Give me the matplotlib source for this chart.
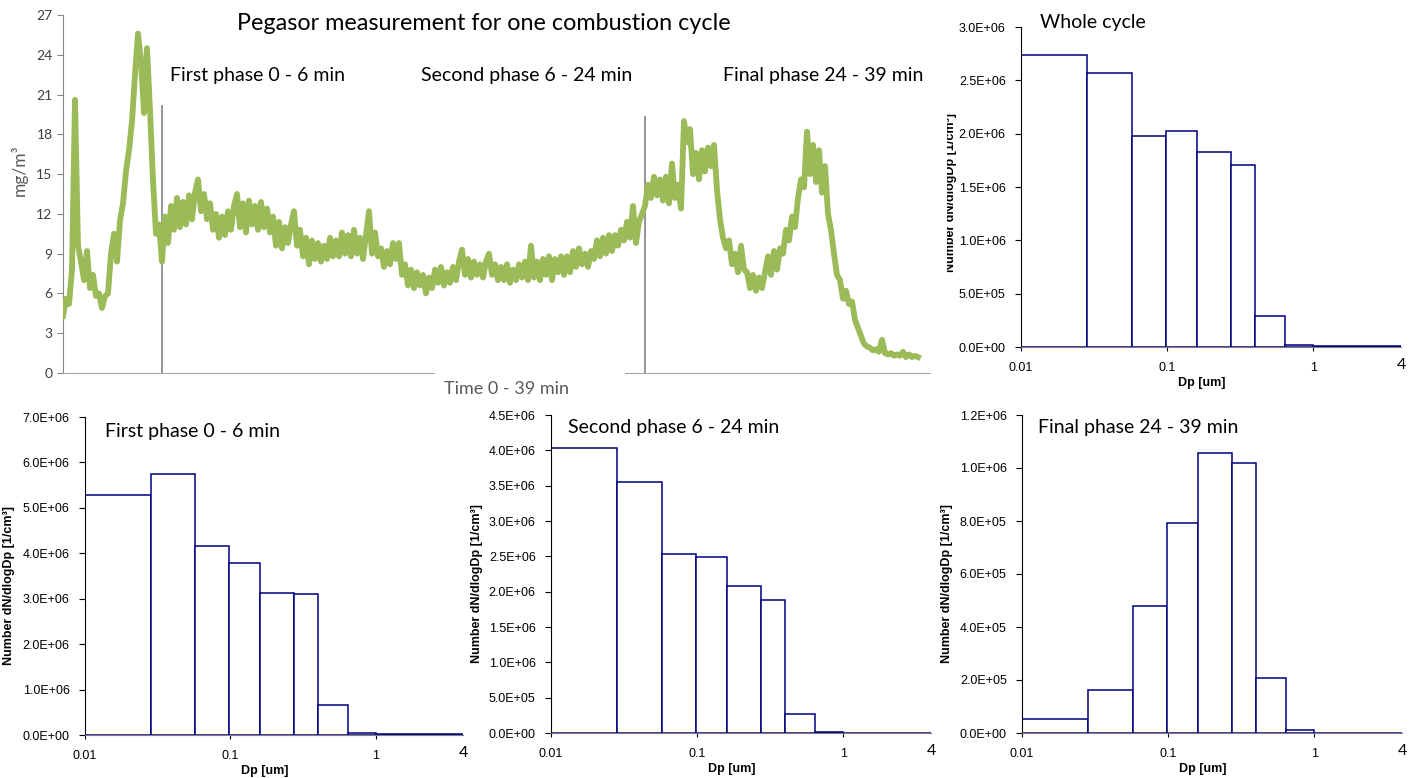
import numpy as np
import matplotlib
matplotlib.use('Agg')
import matplotlib.pyplot as plt
from matplotlib.ticker import FuncFormatter, FixedLocator, NullLocator
from matplotlib.patches import Rectangle
from matplotlib.transforms import Bbox

# Pegasor trace, one reading per sample (mg/m3)
pm_mass = [
    4.3, 5.6, 5.2, 7.8, 20.6, 9.6, 8.4, 7.0, 9.2, 6.4, 7.4, 5.8, 6.0, 4.9, 5.8,
    6.0, 9.0, 10.5, 8.4, 11.5, 12.8, 15.2, 16.8, 19.0, 22.5, 25.6, 23.5, 19.6, 24.5, 19.8,
    14.5, 10.5, 11.2, 8.4, 11.8, 9.8, 12.6, 10.8, 13.2, 11.0, 12.9, 11.2, 13.4, 11.6, 13.6,
    14.6, 12.2, 13.5, 11.6, 12.8, 10.8, 12.0, 10.2, 11.8, 10.4, 12.2, 10.8, 12.6, 13.5, 11.0,
    12.8, 10.6, 13.0, 11.2, 12.6, 10.8, 12.9, 11.0, 12.4, 10.6, 11.8, 9.6, 11.4, 9.4, 11.0,
    9.8, 11.2, 12.2, 9.6, 10.8, 8.8, 10.2, 8.2, 10.0, 8.6, 9.8, 8.4, 9.6, 8.6, 10.2,
    8.8, 10.0, 8.8, 10.6, 9.0, 10.4, 8.8, 10.8, 9.0, 10.2, 8.6, 10.4, 12.2, 9.0, 10.6,
    8.8, 9.4, 8.0, 9.2, 8.2, 9.8, 8.6, 9.8, 7.4, 8.2, 6.6, 7.8, 6.4, 7.6, 6.6,
    7.4, 6.0, 7.2, 6.4, 7.8, 6.8, 8.0, 6.6, 7.6, 6.8, 8.0, 7.0, 8.4, 9.3, 7.4,
    8.6, 7.2, 8.4, 7.4, 8.2, 7.2, 8.4, 9.0, 7.4, 8.2, 7.0, 8.0, 7.0, 8.2, 6.8,
    7.8, 7.0, 8.2, 7.2, 8.4, 7.0, 9.6, 7.2, 8.4, 7.0, 8.6, 7.4, 8.8, 7.0, 8.6,
    7.6, 8.8, 7.4, 8.8, 7.6, 9.2, 8.0, 9.4, 8.2, 9.0, 8.0, 9.2, 8.6, 10.0, 8.8,
    10.2, 9.0, 10.4, 9.2, 10.4, 9.6, 10.8, 10.0, 11.4, 10.2, 12.6, 9.8, 11.4, 12.0, 12.6,
    14.2, 13.2, 14.8, 13.4, 14.6, 13.0, 14.8, 12.8, 15.8, 13.2, 14.2, 12.4, 19.0, 17.4, 18.4,
    15.0, 16.6, 14.6, 16.8, 15.2, 17.0, 15.6, 17.2, 13.8, 11.6, 10.2, 9.4, 10.0, 8.2, 9.0,
    7.6, 9.6, 7.8, 7.6, 6.4, 7.4, 6.2, 7.2, 6.4, 7.6, 8.8, 7.4, 9.2, 7.8, 9.4,
    9.0, 10.8, 10.0, 11.8, 11.0, 13.2, 14.6, 14.0, 18.2, 15.0, 17.2, 14.4, 16.8, 13.6, 15.6,
    12.0, 10.8, 9.0, 7.4, 7.0, 5.6, 6.2, 5.2, 5.4, 4.0, 3.4, 2.8, 2.2, 2.0, 1.9,
    1.7, 1.8, 1.6, 2.5, 1.5, 1.4, 1.5, 1.3, 1.4, 1.3, 1.6, 1.2, 1.4, 1.2, 1.3,
    1.2,
]
phase_start = [33, 194]        # sample index of phase boundaries
phase_line_top = [20.2, 19.4]
phase_names = ['First phase 0 - 6 min', 'Second phase 6 - 24 min', 'Final phase 24 - 39 min']

# size distributions (dN/dlogDp, 1/cm3)
bin_edges = [0.01, 0.0285, 0.0574, 0.098, 0.161, 0.275, 0.40, 0.645, 1.0, 4.0]
whole_cycle = [2.733e6, 2.568e6, 1.976e6, 2.026e6, 1.832e6, 1.704e6, 0.294e6, 0.022e6, 0.006e6]
first_phase = [5.275e6, 5.75e6, 4.16e6, 3.79e6, 3.125e6, 3.10e6, 0.66e6, 0.05e6, 0.015e6]
second_phase = [4.034e6, 3.553e6, 2.535e6, 2.497e6, 2.083e6, 1.876e6, 0.273e6, 0.009e6, 0.002e6]
final_phase = [0.054e6, 0.161e6, 0.480e6, 0.793e6, 1.057e6, 1.017e6, 0.209e6, 0.011e6, 0.001e6]

W, H = 1412, 778
fig = plt.figure(figsize=(W / 100, H / 100), dpi=100)

def px_axes(left, top, right, bottom):
    return fig.add_axes([left / W, 1 - bottom / H, (right - left) / W, (bottom - top) / H])

title_font = 'Lato'
green = '#9BBB59'
navy = '#000080'

# ---- time series ----
ax = px_axes(63, 15, 930, 373)
x = np.arange(len(pm_mass))
ax.plot(x, pm_mass, color=green, lw=4.2, solid_joinstyle='round', zorder=3)
ax.vlines(phase_start, 0, phase_line_top, color='#8c8c8c', lw=1.3, zorder=2)
ax.set_xlim(0, 289)
ax.set_ylim(0, 27)
ax.set_yticks(np.arange(0, 28, 3))
ax.xaxis.set_major_locator(NullLocator())
for s in ['top', 'right']:
    ax.spines[s].set_visible(False)
ax.spines['left'].set_color('#868686')
ax.spines['bottom'].set_color('#a6a6a6')
ax.tick_params(axis='y', length=4, color='#868686', labelsize=10, labelcolor='#404040')
for lab in ax.get_yticklabels():
    lab.set_fontfamily(title_font)
ax.set_ylabel('mg/m³', fontsize=12.5, color='#595959', fontfamily=title_font)
ax.yaxis.set_label_coords(-0.041, 0.567)
ax.set_xlabel('Time 0 - 39 min', fontsize=13, color='#595959', fontfamily=title_font)
ax.xaxis.set_label_coords((506 - 63) / 867, -0.022)
ax.text((484 - 63) / 867, 1 - (24 - 15) / 358, 'Pegasor measurement for one combustion cycle',
        transform=ax.transAxes, ha='center', va='center', fontsize=16.8, fontfamily=title_font)
for cx, name in zip([258, 527, 823], phase_names):
    ax.text((cx - 63) / 867, 1 - (75 - 15) / 358, name, transform=ax.transAxes,
            ha='center', va='center', fontsize=14, fontfamily=title_font)
# gap in the axis line behind the axis title
fig.add_artist(Rectangle((435 / W, 1 - 376 / H), 190 / W, 7 / H, transform=fig.transFigure,
                         facecolor='white', edgecolor='none', zorder=10))

# ---- size distributions ----
def sci(v, pos):
    return f'{v:.1E}'

def dist_panel(box, values, ymax, step, title, title_xy):
    a = px_axes(*box)
    edges = np.array(bin_edges)
    a.bar(edges[:-1], values, width=np.diff(edges), align='edge', facecolor='white',
          edgecolor=navy, lw=1.1, zorder=2)
    a.set_xscale('log')
    a.set_xlim(0.01, 4)
    a.set_ylim(0, ymax)
    a.yaxis.set_major_locator(FixedLocator(np.arange(0, ymax + step / 2, step)))
    a.yaxis.set_major_formatter(FuncFormatter(sci))
    a.xaxis.set_major_locator(FixedLocator([0.01, 0.1, 1, 4]))
    a.xaxis.set_minor_locator(NullLocator())
    a.xaxis.set_major_formatter(FuncFormatter(lambda v, p: {0.01: '0.01', 0.1: '0.1', 1: '1', 4: '4'}.get(round(v, 2), '')))
    for s in ['top', 'right']:
        a.spines[s].set_visible(False)
    a.spines['left'].set_color('black')
    a.spines['bottom'].set_color('#808080')
    a.spines['bottom'].set_zorder(3)
    a.tick_params(axis='y', length=4, width=0.8, labelsize=9, pad=7, labelfontfamily='Liberation Sans')
    a.tick_params(axis='x', length=3, width=0.8, labelsize=9, pad=8, labelfontfamily='Liberation Sans')
    last = a.get_xticklabels()[-1]
    last.set_fontsize(11.5)
    last.set_fontfamily(title_font)
    a.xaxis.get_major_ticks()[-1].tick1line.set_visible(False)
    a.xaxis.get_major_ticks()[-1].set_pad(5)
    a.set_xlabel('Dp [um]', fontsize=9, fontweight='bold', fontfamily='Liberation Sans')
    a.xaxis.set_label_coords(0.476, -0.095)
    a.text(title_xy[0], title_xy[1], title, transform=a.transAxes, ha='left', va='center',
           fontsize=14, fontfamily=title_font)
    return a

ylab = 'Number dN/dlogDp [1/cm³]'

a1 = dist_panel((1021, 27, 1401, 347), whole_cycle, 3.0e6, 0.5e6, 'Whole cycle', (0.05, 1.015))
t = fig.text(951 / W, 1 - 192 / H, ylab, rotation=90, ha='center', va='center',
             fontsize=9, fontweight='bold', fontfamily='Liberation Sans')
t.set_clip_box(Bbox([[947, 0], [W, H]]))
t.set_clip_on(True)

a2 = dist_panel((85, 417, 463, 735), first_phase, 7.0e6, 1.0e6, phase_names[0], (0.053, 0.953))
a2.set_ylabel(ylab, fontsize=9, fontweight='bold', fontfamily='Liberation Sans')
a2.yaxis.set_label_coords(-0.185, 0.47)

a3 = dist_panel((551, 415, 931, 733), second_phase, 4.5e6, 0.5e6, phase_names[1], (0.045, 0.962))
a3.set_ylabel(ylab, fontsize=9, fontweight='bold', fontfamily='Liberation Sans')
a3.yaxis.set_label_coords(-0.179, 0.47)

a4 = dist_panel((1022, 415, 1402, 733), final_phase, 1.2e6, 0.2e6, phase_names[2], (0.042, 0.962))
a4.set_ylabel(ylab, fontsize=9, fontweight='bold', fontfamily='Liberation Sans')
a4.yaxis.set_label_coords(-0.182, 0.47)

fig.savefig('out.png', dpi=100)
